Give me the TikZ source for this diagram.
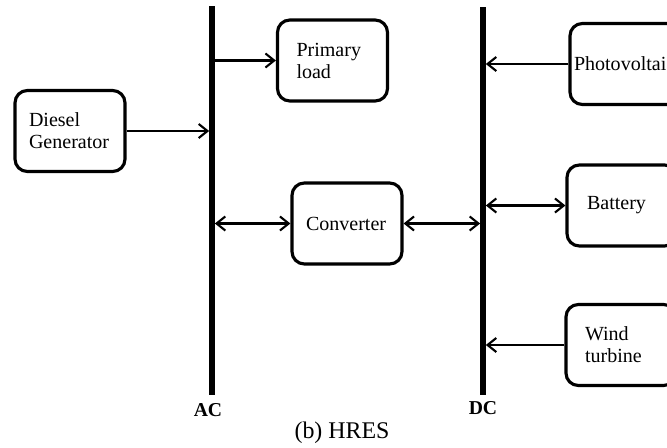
\documentclass[tikz,border=0pt]{standalone}
\usepackage{fontspec}
\setmainfont{Liberation Serif}
\usetikzlibrary{arrows.meta,positioning}

\begin{document}
\begin{tikzpicture}[x=0.02cm,y=-0.02cm,>={Straight Barb[length=5pt,width=8pt,line width=1.2pt]},
    font=\fontsize{11.4}{12.5}\selectfont,
    unit/.style={draw,line width=1.8pt,rounded corners=7pt,minimum width=2.2cm,minimum height=1.62cm,
      inner xsep=0pt,align=left,text width=#1},
    bus/.style={fill=black,inner sep=0pt,minimum width=2.85pt,minimum height=7.78cm},
    link/.style={line width=1.2pt},
    buslbl/.style={font=\fontsize{11.2}{13}\selectfont\bfseries}]
  \useasboundingbox (0,0) rectangle (667,447);
  \clip (0,0) rectangle (667,447);
  % AC and DC buses
  \node[bus] (ac) at (212,200.5) {};
  \node[bus] (dc) at (483,201) {};
  % units
  \node[unit=1.64cm] (dg) at (70,131) {Diesel\\Generator};
  \node[unit=1.44cm] (pl) at (332.5,60.5) {Primary\\load};
  \node[unit=1.64cm] (cv) at (347,223.5) {Converter};
  \node[unit=2.04cm] (pv) at (625,64) {Photovoltaic};
  \node[unit=1.4cm] (bt) at (622,205.5) {Battery};
  \node[unit=1.44cm] (wt) at (621,345) {Wind\\turbine};
  % connections
  \draw[link,->] (dg) -- (dg -| ac.west);
  \draw[link,->] (ac.east |- pl) -- (pl);
  \draw[link,<->] (ac.east |- cv) -- (cv);
  \draw[link,<->] (cv) -- (cv -| dc.west);
  \draw[link,->] (pv) -- (pv -| dc.east);
  \draw[link,<->] (dc.east |- bt) -- (bt);
  \draw[link,->] (wt) -- (wt -| dc.east);
  % labels
  \node[buslbl] (aclbl) at (208,410) {AC};
  \node[buslbl] (dclbl) at (483,408) {DC};
  \node[font=\fontsize{13.6}{16}\selectfont] (cap) at (342,433) {(b) HRES};
\end{tikzpicture}
\end{document}
